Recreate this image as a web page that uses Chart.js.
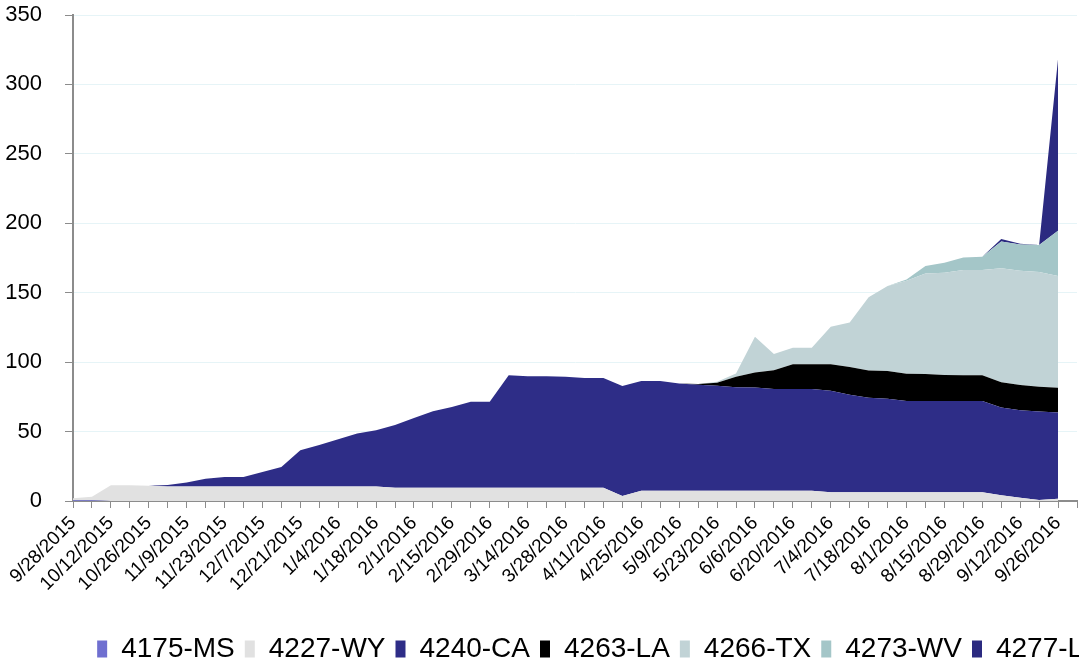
<!DOCTYPE html>
<html>
<head>
<meta charset="utf-8">
<script src="https://cdn.jsdelivr.net/npm/chart.js@4/dist/chart.umd.min.js"></script>
<style>
  html, body { margin: 0; padding: 0; background: #fff; overflow: hidden; }
  #wrap { width: 1079px; height: 658px; overflow: hidden; position: relative; }
  #chart { display: block; }
</style>
</head>
<body>
<div id="wrap"><canvas id="chart" width="1199" height="673"></canvas></div>
<script>
  // weekly categories (last one has no data, Excel keeps an empty slot at the end)
  const weeks = [
    '9/28/2015', '10/5/2015', '10/12/2015', '10/19/2015', '10/26/2015', '11/2/2015', '11/9/2015',
    '11/16/2015', '11/23/2015', '11/30/2015', '12/7/2015', '12/14/2015', '12/21/2015', '12/28/2015',
    '1/4/2016', '1/11/2016', '1/18/2016', '1/25/2016', '2/1/2016', '2/8/2016', '2/15/2016',
    '2/22/2016', '2/29/2016', '3/7/2016', '3/14/2016', '3/21/2016', '3/28/2016', '4/4/2016',
    '4/11/2016', '4/18/2016', '4/25/2016', '5/2/2016', '5/9/2016', '5/16/2016', '5/23/2016',
    '5/30/2016', '6/6/2016', '6/13/2016', '6/20/2016', '6/27/2016', '7/4/2016', '7/11/2016',
    '7/18/2016', '7/25/2016', '8/1/2016', '8/8/2016', '8/15/2016', '8/22/2016', '8/29/2016',
    '9/5/2016', '9/12/2016', '9/19/2016', '9/26/2016', '10/3/2016'
  ];

  const ms4175 = [0.5, 0.5, 0, 0, 0, 0, 0, 0, 0, 0, 0, 0, 0, 0, 0, 0, 0, 0, 0, 0, 0, 0, 0, 0, 0, 0, 0,
    0, 0, 0, 0, 0, 0, 0, 0, 0, 0, 0, 0, 0, 0, 0, 0, 0, 0, 0, 0, 0, 0, 0, 0, 0, 0];
  const wy4227 = [1.5, 2.6, 11.3, 11.3, 11, 10.5, 10.5, 10.5, 10.5, 10.5, 10.5, 10.5, 10.5, 10.5,
    10.5, 10.5, 10.5, 9.5, 9.5, 9.5, 9.5, 9.5, 9.5, 9.5, 9.5, 9.5, 9.5, 9.5, 9.5, 3.6, 7.3, 7.3,
    7.3, 7.3, 7.3, 7.3, 7.3, 7.3, 7.3, 7.3, 6.3, 6.3, 6.3, 6.3, 6.3, 6.3, 6.3, 6.3, 6.3, 4.1, 2.4,
    0.7, 1.7];
  const ca4240 = [0, 0, 0, 0, 0, 1, 2.9, 5.6, 6.8, 6.8, 10.4, 14, 26, 29.8, 33.9, 38.2, 40.4, 45.2,
    50.3, 55.1, 58.2, 62, 62, 81, 80.3, 80.3, 80, 79.1, 79.1, 79.2, 79.1, 79.1, 77.3, 76.4, 75.7,
    74.7, 74.5, 73.3, 73.3, 73.3, 73.1, 70.2, 68, 67.4, 65.7, 65.7, 65.7, 65.7, 65.7, 63.3, 62.9,
    63.8, 62.1];
  const la4263 = [0, 0, 0, 0, 0, 0, 0, 0, 0, 0, 0, 0, 0, 0, 0, 0, 0, 0, 0, 0, 0, 0, 0, 0, 0, 0, 0,
    0, 0, 0, 0, 0, 0, 0.5, 2.2, 7.5, 10.8, 13.5, 17.8, 17.8, 19, 20, 19.7, 19.9, 19.7, 19.4, 18.7,
    18.5, 18.5, 18.1, 18.2, 17.8, 17.8];
  const tx4266 = [0, 0, 0, 0, 0, 0, 0, 0, 0, 0, 0, 0, 0, 0, 0, 0, 0, 0, 0, 0, 0, 0, 0, 0, 0, 0, 0,
    0, 0, 0, 0, 0, 0, 0, 0.7, 2.4, 25.7, 11.7, 12, 12, 27.1, 32.1, 52.7, 61.2, 66.9, 72.5, 73.7,
    75.8, 75.8, 82.2, 82.3, 82.6, 80.4];
  const wv4273 = [0, 0, 0, 0, 0, 0, 0, 0, 0, 0, 0, 0, 0, 0, 0, 0, 0, 0, 0, 0, 0, 0, 0, 0, 0, 0, 0,
    0, 0, 0, 0, 0, 0, 0, 0, 0, 0, 0, 0, 0, 0, 0, 0, 0, 1, 5.3, 7.2, 9.1, 9.6, 19.2, 19, 19.4, 32.6];
  const la4277 = [0, 0, 0, 0, 0, 0, 0, 0, 0, 0, 0, 0, 0, 0, 0, 0, 0, 0, 0, 0, 0, 0, 0, 0, 0, 0, 0,
    0, 0, 0, 0, 0, 0, 0, 0, 0, 0, 0, 0, 0, 0, 0, 0, 0, 0, 0, 0, 0, 0, 1.7, 0.4, 0, 124];

  const yTicks = [0, 50, 100, 150, 200, 250, 300, 350];

  function area(label, data, color, fill) {
    return {
      label: label,
      data: data,
      backgroundColor: color,
      borderColor: color,
      borderWidth: 0,
      pointRadius: 0,
      fill: fill,
      tension: 0
    };
  }

  const ctx = document.getElementById('chart').getContext('2d');
  new Chart(ctx, {
    type: 'line',
    data: {
      labels: weeks,
      datasets: [
        area('4175-MS', ms4175, '#6f6fd0', 'origin'),
        area('4227-WY', wy4227, '#e1e1e1', '-1'),
        area('4240-CA', ca4240, '#2e2d87', '-1'),
        area('4263-LA', la4263, '#000000', '-1'),
        area('4266-TX', tx4266, '#c1d3d6', '-1'),
        area('4273-WV', wv4273, '#a4c6c8', '-1'),
        area('4277-LA', la4277, '#2b2a80', '-1')
      ]
    },
    options: {
      responsive: false,
      animation: false,
      layout: { padding: { top: 15, right: 0, left: 0, bottom: 0 } },
      plugins: {
        tooltip: { enabled: false },
        legend: {
          position: 'bottom',
          labels: {
            color: '#000',
            font: { family: 'Liberation Sans', size: 28 },
            boxWidth: 10,
            boxHeight: 17,
            padding: 10
          }
        }
      },
      scales: {
        x: {
          offset: false,
          grid: {
            drawOnChartArea: false,
            drawTicks: true,
            tickLength: 7,
            color: '#8c8c8c',
            tickColor: '#8c8c8c'
          },
          border: { color: '#8c8c8c', width: 2 },
          ticks: {
            autoSkip: false,
            maxRotation: 45,
            minRotation: 45,
            padding: 4,
            color: '#000',
            font: { family: 'Liberation Sans', size: 19 },
            callback: function (value, index) {
              return index % 2 === 0 ? this.getLabelForValue(value) : '';
            }
          },
          afterFit: function (scale) { scale.height = 124; }
        },
        y: {
          stacked: true,
          min: 0,
          max: 350,
          afterBuildTicks: function (scale) {
            scale.ticks = yTicks.map(v => ({ value: v }));
          },
          grid: {
            color: '#e6f4f7',
            tickColor: '#8c8c8c',
            tickLength: 8
          },
          border: { color: '#8c8c8c', width: 2 },
          ticks: {
            padding: 23,
            color: '#000',
            font: { family: 'Liberation Sans', size: 22 }
          },
          afterFit: function (scale) {
            scale.width = 73;
            scale.paddingTop = 0;
            scale.paddingBottom = 0;
          }
        },
        // empty space on the right, the legend runs past the picture edge like in the original
        spacer: {
          type: 'linear',
          position: 'right',
          grid: { display: false },
          border: { display: false },
          ticks: { display: false },
          afterFit: function (scale) {
            scale.width = 122;
            scale.paddingTop = 0;
            scale.paddingBottom = 0;
          }
        }
      }
    }
  });
</script>
</body>
</html>
